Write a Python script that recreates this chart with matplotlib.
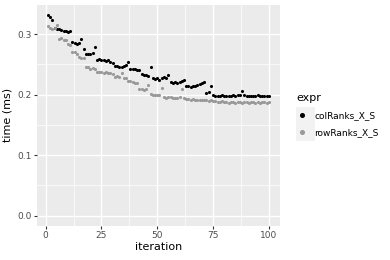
import matplotlib
matplotlib.use("Agg")
import matplotlib.pyplot as plt
from matplotlib.lines import Line2D
from matplotlib.patches import Rectangle

iteration = list(range(1, 101))

col_ranks = [0.332, 0.328, 0.323, 0.311, 0.309, 0.308, 0.307, 0.306, 0.305, 0.303,
             0.306, 0.287, 0.285, 0.284, 0.286, 0.292, 0.275, 0.268, 0.267, 0.268,
             0.269, 0.279, 0.258, 0.259, 0.257, 0.258, 0.256, 0.257, 0.254, 0.253,
             0.248, 0.247, 0.246, 0.246, 0.247, 0.249, 0.254, 0.243, 0.242, 0.243,
             0.240, 0.241, 0.234, 0.232, 0.233, 0.231, 0.245, 0.227, 0.226, 0.227,
             0.225, 0.227, 0.229, 0.228, 0.232, 0.221, 0.220, 0.221, 0.220, 0.221,
             0.222, 0.224, 0.215, 0.214, 0.213, 0.214, 0.215, 0.216, 0.217, 0.219,
             0.221, 0.203, 0.204, 0.214, 0.200, 0.198, 0.197, 0.198, 0.199, 0.197,
             0.198, 0.197, 0.198, 0.199, 0.198, 0.199, 0.200, 0.206, 0.199, 0.198,
             0.197, 0.198, 0.197, 0.198, 0.199, 0.198, 0.197, 0.198, 0.197, 0.197]

row_ranks = [0.313, 0.311, 0.309, 0.310, 0.316, 0.292, 0.293, 0.291, 0.290, 0.284,
             0.282, 0.271, 0.270, 0.268, 0.263, 0.261, 0.260, 0.246, 0.245, 0.243,
             0.244, 0.242, 0.238, 0.237, 0.237, 0.236, 0.237, 0.236, 0.235, 0.234,
             0.230, 0.231, 0.229, 0.235, 0.227, 0.228, 0.223, 0.222, 0.221, 0.220,
             0.219, 0.209, 0.209, 0.208, 0.209, 0.216, 0.201, 0.200, 0.200, 0.199,
             0.200, 0.211, 0.196, 0.195, 0.196, 0.196, 0.195, 0.194, 0.195, 0.196,
             0.209, 0.194, 0.193, 0.193, 0.192, 0.193, 0.192, 0.191, 0.192, 0.191,
             0.192, 0.191, 0.190, 0.191, 0.189, 0.189, 0.188, 0.188, 0.189, 0.188,
             0.188, 0.187, 0.188, 0.188, 0.187, 0.188, 0.188, 0.187, 0.188, 0.188,
             0.187, 0.188, 0.188, 0.187, 0.188, 0.187, 0.188, 0.188, 0.187, 0.188]

series_names = ["colRanks_X_S", "rowRanks_X_S"]
series_colors = ["#000000", "#999999"]

fig = plt.figure(figsize=(3.9, 2.6), dpi=100)
ax = fig.add_axes([0.0946, 0.132, 0.623, 0.8496])
ax.set_facecolor("#EBEBEB")
for s in ax.spines.values():
    s.set_visible(False)

# ggplot-ish limits: 5% expansion, y expanded down to 0
ax.set_xlim(-3.95, 104.95)
ax.set_ylim(-0.0166, 0.3486)
ax.set_xticks([0, 25, 50, 75, 100])
ax.set_yticks([0.0, 0.1, 0.2, 0.3])
ax.set_yticklabels(["0.0", "0.1", "0.2", "0.3"])
ax.set_xticks([12.5, 37.5, 62.5, 87.5], minor=True)
ax.set_yticks([0.05, 0.15, 0.25], minor=True)
ax.grid(which="major", color="white", linewidth=1.0)
ax.grid(which="minor", color="white", linewidth=0.5)
ax.set_axisbelow(True)
ax.tick_params(which="major", length=2.5, width=0.8, color="#333333",
               labelsize=6.5, labelcolor="#4D4D4D", pad=1.5)
ax.tick_params(which="minor", length=0)

for vals, name, c in zip([col_ranks, row_ranks], series_names, series_colors):
    ax.scatter(iteration, vals, s=5, color=c, linewidths=0, zorder=3)

ax.set_xlabel("iteration", fontsize=8, labelpad=1)
ax.set_ylabel("time (ms)", fontsize=8, labelpad=3)

# grey background behind legend keys (drawn under the legend)
fig.patches.append(Rectangle((296 / 390, 1 - 141 / 260), 19 / 390, 34 / 260,
                             transform=fig.transFigure, facecolor="#F2F2F2",
                             edgecolor="none", zorder=-1))

handles = [Line2D([], [], marker="o", linestyle="", markersize=2.6,
                  markerfacecolor=c, markeredgecolor=c) for c in series_colors]
leg = ax.legend(handles, series_names, title="expr", loc="center left",
                bbox_to_anchor=(1.041, 0.5), frameon=False, fontsize=6.5,
                title_fontsize=8, handlelength=1.2, handletextpad=0.8,
                labelspacing=0.9, borderaxespad=0.3)
leg._legend_box.align = "left"

fig.savefig("out.png", dpi=100)
